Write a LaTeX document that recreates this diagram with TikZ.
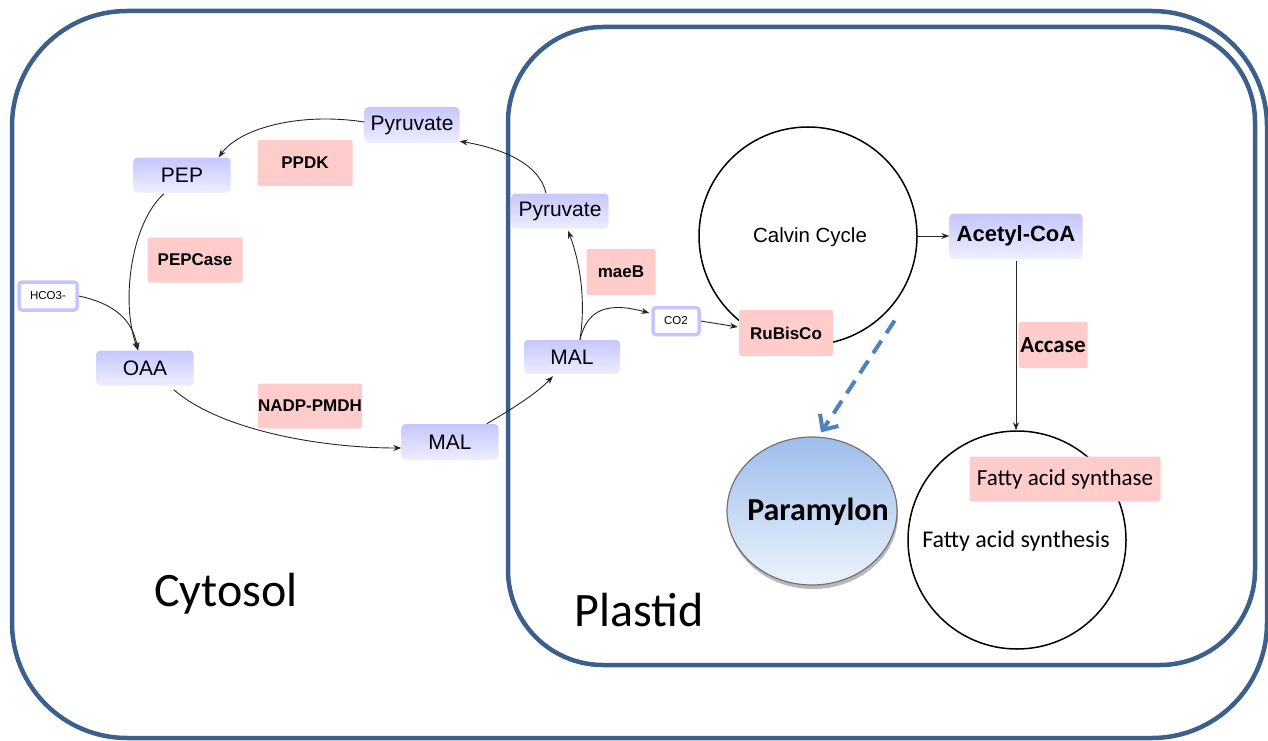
\documentclass[tikz,border=0pt]{standalone}
\usepackage{fontspec}
\setmainfont{Liberation Sans}
\newfontfamily\calfont{Carlito}
\usetikzlibrary{arrows.meta,shadows,shapes.geometric,calc}
\definecolor{frame}{RGB}{60,95,140}
\definecolor{lav}{RGB}{198,198,255}
\definecolor{lavlight}{RGB}{238,238,255}
\definecolor{pinkbox}{RGB}{255,204,204}
\definecolor{dashblue}{RGB}{79,129,189}
\definecolor{partop}{RGB}{158,189,235}
\definecolor{parbot}{RGB}{236,243,253}
\begin{document}
\begin{tikzpicture}[x=1pt,y=-1pt,
  metab/.style={rounded corners=4pt, top color=lav, bottom color=lavlight, inner sep=0pt, font=\fontsize{21}{24}\selectfont},
  enz/.style={rounded corners=2pt, fill=pinkbox, inner sep=0pt, font=\bfseries\fontsize{17}{20}\selectfont},
  small/.style={rounded corners=3pt, draw=lav, line width=3.5pt, fill=white, inner sep=0pt, font=\fontsize{11.5}{13}\selectfont},
  arr/.style={-{Stealth[length=8pt,width=6pt]}, line width=0.9pt, black!85},
  cyc/.style={circle, draw=black, line width=1.5pt, inner sep=0pt, minimum size=218pt},
  comp/.style={draw=frame, line width=4.5pt}
]
\useasboundingbox (0,0) rectangle (1268,741);
% compartments
\draw[comp, rounded corners=115pt] (12,11) rectangle (1267,738);
\draw[comp, rounded corners=95pt] (508,27) rectangle (1255,665);
% cycles
\node[cyc] (calvin) at (808,236) {};
\node[cyc] (fas) at (1017,540) {};
\node[font=\fontsize{20.5}{24}\selectfont] (calvintxt) at (810,237) {Calvin Cycle};
\node[font=\calfont\fontsize{24}{28}\selectfont] (fastxt) at (1016,541) {Fatty acid synthesis};
% metabolites
\node[metab, minimum width=95pt, minimum height=36pt] (pyrc) at (412,125) {Pyruvate};
\node[metab, minimum width=97pt, minimum height=35pt] (pep) at (182,175) {PEP};
\node[metab, minimum width=97pt, minimum height=35pt] (oaa) at (145,368) {OAA};
\node[metab, minimum width=97pt, minimum height=36pt] (malc) at (450,442) {MAL};
\node[metab, minimum width=96pt, minimum height=34pt] (malp) at (572,357) {MAL};
\node[metab, minimum width=97pt, minimum height=35pt] (pyrp) at (560,211) {Pyruvate};
\node[metab, minimum width=133pt, minimum height=45pt, font=\bfseries\fontsize{22}{26}\selectfont] (acoa) at (1016,236) {Acetyl-CoA};
\node[small, minimum width=58pt, minimum height=28pt] (hco3) at (48,296) {HCO3-};
\node[small, minimum width=46pt, minimum height=27pt] (co2) at (676,321) {CO2};
% enzymes
\node[enz, minimum width=95pt, minimum height=46pt] (ppdk) at (305,163) {PPDK};
\node[enz, minimum width=95pt, minimum height=45pt] (pepcase) at (195,260) {PEPCase};
\node[enz, minimum width=104pt, minimum height=45pt] (nadp) at (310,406) {NADP-PMDH};
\node[enz, minimum width=69pt, minimum height=46pt] (maeb) at (621,272) {maeB};
\node[enz, minimum width=94pt, minimum height=46pt] (rubisco) at (786,333) {RuBisCo};
\node[enz, minimum width=69pt, minimum height=46pt, font=\calfont\bfseries\fontsize{23}{26}\selectfont] (accase) at (1053,345) {Accase};
\node[enz, minimum width=191pt, minimum height=45pt, font=\calfont\fontsize{23}{26}\selectfont] (fasyn) at (1065,479) {Fatty acid synthase};
% paramylon
\node[ellipse, minimum width=170pt, minimum height=148pt, top color=partop, bottom color=parbot, draw=black!55, line width=1.2pt, drop shadow={shadow xshift=1pt, shadow yshift=-4pt, fill=black!55}] (para) at (812,511) {};
\node[font=\calfont\bfseries\fontsize{32}{36}\selectfont] (paratxt) at (818,512) {Paramylon};
% labels
\node[font=\calfont\fontsize{48}{54}\selectfont] (cyto) at (226,594) {Cytosol};
\node[font=\calfont\fontsize{48}{54}\selectfont] (plast) at (639,610) {Plastid};
% connectors
\draw[arr] ($(pyrp.north)+(-14,0)$) .. controls (540,165) and (505,149) .. ($(pyrc.south east)+(0,-2)$);
\draw[arr] ($(pyrc.west)+(0,-3)$) .. controls (300,112) and (240,128) .. ($(pep.north east)+(-12,0)$);
\draw[arr] ($(pep.south)+(-18,1)$) .. controls (132,222) and (120,300) .. ($(oaa.north)+(-7,0)$);
\draw[arr] (hco3.east) .. controls (112,303) and (132,318) .. ($(oaa.north)+(-7,0)$);
\draw[arr] ($(oaa.south east)+(-20,4)$) .. controls (220,430) and (320,448) .. ($(malc.west)+(0,6)$);
\draw[arr] ($(malc.north east)+(-12,0)$) .. controls (510,410) and (535,395) .. ($(malp.south)+(-19,2)$);
\draw[arr] ($(malp.north)+(8,0)$) .. controls (586,300) and (580,262) .. ($(pyrp.south)+(8,2)$);
\draw[arr] ($(malp.north)+(8,0)$) .. controls (586,314) and (602,300) .. ($(co2.west)+(-2,-8)$);
\draw[arr] (co2.east) -- ($(rubisco.west)+(-1,-6)$);
\draw[arr] (calvin.east) -- (acoa.west);
\draw[arr] ($(acoa.south)+(0,2)$) -- (fas.north -| acoa.south);
\draw[dashblue, line width=4pt, dash pattern=on 15pt off 9pt, -{Straight Barb[length=12pt,width=22pt,line width=4pt]}] ($(calvin.south east)+(9,7)$) -- ($(para.north)+(9,-4)$);
\end{tikzpicture}
\end{document}
